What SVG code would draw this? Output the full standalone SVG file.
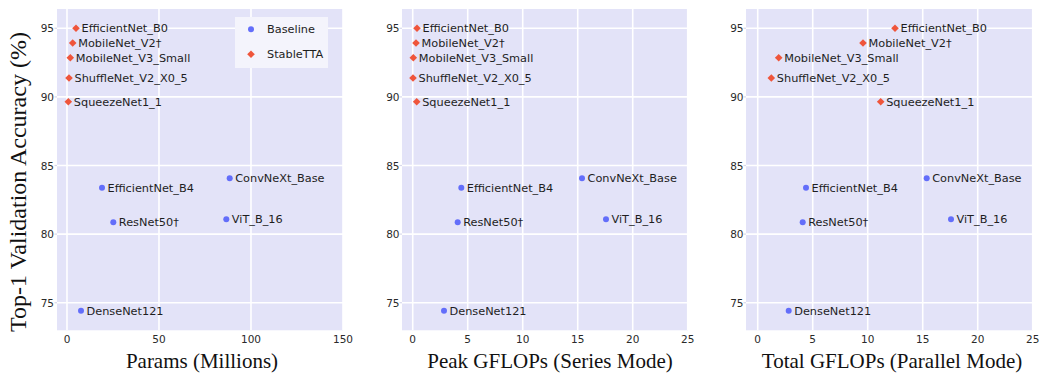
<svg xmlns="http://www.w3.org/2000/svg" width="1042" height="373" viewBox="0 0 1042 373">
<style>
.bg{fill:#E3E3F8}
.grid{stroke:#FFFFFF;stroke-width:1.6;fill:none}
.tick{stroke:#D8D8EC;stroke-width:1.2}
.tl{font-family:"DejaVu Sans",Verdana,sans-serif;font-size:10.5px;fill:#2a2a2a}
.yl{text-anchor:end}
.xl{text-anchor:middle}
.lab{font-family:"DejaVu Sans",Verdana,sans-serif;font-size:11.3px;fill:#1e1e1e}
.ttl{font-family:"Liberation Serif","Times New Roman",serif;font-size:21px;fill:#111;text-anchor:middle}
.base{fill:#636EFA}
.stab{fill:#EF553B}
</style>
<defs>
<circle id="dot" r="3" class="base"/>
<path id="dia" d="M0,-3.8L3.8,0L0,3.8L-3.8,0Z" class="stab"/>
</defs>

<!-- Panel 1 -->
<g id="panel1">
<rect class="bg" x="57" y="9" width="286" height="321.3"/>
<g class="grid">
<line x1="57" y1="28.3" x2="343" y2="28.3"/><line x1="57" y1="96.9" x2="343" y2="96.9"/><line x1="57" y1="165.5" x2="343" y2="165.5"/><line x1="57" y1="234.1" x2="343" y2="234.1"/><line x1="57" y1="302.7" x2="343" y2="302.7"/>
<line x1="67" y1="9" x2="67" y2="330.3"/><line x1="159" y1="9" x2="159" y2="330.3"/><line x1="251" y1="9" x2="251" y2="330.3"/><line x1="343" y1="9" x2="343" y2="330.3"/>
</g>
<g class="tick"><line x1="54.5" y1="28.3" x2="57" y2="28.3"/><line x1="54.5" y1="96.9" x2="57" y2="96.9"/><line x1="54.5" y1="165.5" x2="57" y2="165.5"/><line x1="54.5" y1="234.1" x2="57" y2="234.1"/><line x1="54.5" y1="302.7" x2="57" y2="302.7"/></g>
<g class="tl yl"><text x="54" y="32.3">95</text><text x="54" y="100.9">90</text><text x="54" y="169.5">85</text><text x="54" y="238.1">80</text><text x="54" y="306.7">75</text></g>
<g class="tl xl"><text x="67" y="343">0</text><text x="159" y="343">50</text><text x="251" y="343">100</text><text x="343" y="343">150</text></g>
<text class="ttl" x="202" y="368">Params (Millions)</text>
<text class="ttl" style="font-size:24px" transform="translate(25.5,182) rotate(-90)">Top-1 Validation Accuracy (%)</text>
<g id="p1-effb0"><use href="#dia" x="76" y="28.3"/><text class="lab" x="81.5" y="32.3">EfficientNet_B0</text></g>
<g id="p1-mnv2"><use href="#dia" x="72.7" y="43"/><text class="lab" x="78.2" y="47">MobileNet_V2†</text></g>
<g id="p1-mnv3s"><use href="#dia" x="70.3" y="57.7"/><text class="lab" x="75.8" y="61.7">MobileNet_V3_Small</text></g>
<g id="p1-shuf"><use href="#dia" x="69" y="78"/><text class="lab" x="74.5" y="82">ShuffleNet_V2_X0_5</text></g>
<g id="p1-sq"><use href="#dia" x="68.3" y="101.7"/><text class="lab" x="73.8" y="105.7">SqueezeNet1_1</text></g>
<g id="p1-effb4"><use href="#dot" x="102" y="187.7"/><text class="lab" x="107.5" y="191.7">EfficientNet_B4</text></g>
<g id="p1-convnext"><use href="#dot" x="229.7" y="178.3"/><text class="lab" x="235.2" y="182.3">ConvNeXt_Base</text></g>
<g id="p1-resnet"><use href="#dot" x="113.3" y="222.3"/><text class="lab" x="118.8" y="226.3">ResNet50†</text></g>
<g id="p1-vit"><use href="#dot" x="226.3" y="219.3"/><text class="lab" x="231.8" y="223.3">ViT_B_16</text></g>
<g id="p1-dense"><use href="#dot" x="81" y="310.7"/><text class="lab" x="86.5" y="314.7">DenseNet121</text></g>
<g id="legend">
<rect x="235" y="17" width="93" height="51" fill="#F4F4FC"/>
<use href="#dot" x="251" y="29.3"/><text class="lab" x="267" y="33.3">Baseline</text>
<use href="#dia" x="251" y="54.3"/><text class="lab" x="267" y="58.3">StableTTA</text>
</g>
</g>

<!-- Panel 2 -->
<g id="panel2">
<rect class="bg" x="402" y="9" width="286" height="321.3"/>
<g class="grid">
<line x1="402" y1="28.3" x2="688" y2="28.3"/><line x1="402" y1="96.9" x2="688" y2="96.9"/><line x1="402" y1="165.5" x2="688" y2="165.5"/><line x1="402" y1="234.1" x2="688" y2="234.1"/><line x1="402" y1="302.7" x2="688" y2="302.7"/>
<line x1="412.7" y1="9" x2="412.7" y2="330.3"/><line x1="467.7" y1="9" x2="467.7" y2="330.3"/><line x1="522.7" y1="9" x2="522.7" y2="330.3"/><line x1="577.7" y1="9" x2="577.7" y2="330.3"/><line x1="632.7" y1="9" x2="632.7" y2="330.3"/><line x1="687.7" y1="9" x2="687.7" y2="330.3"/>
</g>
<g class="tick"><line x1="399.5" y1="28.3" x2="402" y2="28.3"/><line x1="399.5" y1="96.9" x2="402" y2="96.9"/><line x1="399.5" y1="165.5" x2="402" y2="165.5"/><line x1="399.5" y1="234.1" x2="402" y2="234.1"/><line x1="399.5" y1="302.7" x2="402" y2="302.7"/></g>
<g class="tl yl"><text x="399.5" y="32.3">95</text><text x="399.5" y="100.9">90</text><text x="399.5" y="169.5">85</text><text x="399.5" y="238.1">80</text><text x="399.5" y="306.7">75</text></g>
<g class="tl xl"><text x="412.7" y="343">0</text><text x="467.7" y="343">5</text><text x="522.7" y="343">10</text><text x="577.7" y="343">15</text><text x="632.7" y="343">20</text><text x="687.7" y="343">25</text></g>
<text class="ttl" x="550" y="368">Peak GFLOPs (Series Mode)</text>
<g id="p2-effb0"><use href="#dia" x="417" y="28.3"/><text class="lab" x="422.5" y="32.3">EfficientNet_B0</text></g>
<g id="p2-mnv2"><use href="#dia" x="416" y="43"/><text class="lab" x="421.5" y="47">MobileNet_V2†</text></g>
<g id="p2-mnv3s"><use href="#dia" x="413.3" y="57.7"/><text class="lab" x="418.8" y="61.7">MobileNet_V3_Small</text></g>
<g id="p2-shuf"><use href="#dia" x="413" y="78"/><text class="lab" x="418.5" y="82">ShuffleNet_V2_X0_5</text></g>
<g id="p2-sq"><use href="#dia" x="416.7" y="101.7"/><text class="lab" x="422.2" y="105.7">SqueezeNet1_1</text></g>
<g id="p2-effb4"><use href="#dot" x="461.3" y="187.7"/><text class="lab" x="466.8" y="191.7">EfficientNet_B4</text></g>
<g id="p2-convnext"><use href="#dot" x="582" y="178.3"/><text class="lab" x="587.5" y="182.3">ConvNeXt_Base</text></g>
<g id="p2-resnet"><use href="#dot" x="457.7" y="222.3"/><text class="lab" x="463.2" y="226.3">ResNet50†</text></g>
<g id="p2-vit"><use href="#dot" x="606" y="219.3"/><text class="lab" x="611.5" y="223.3">ViT_B_16</text></g>
<g id="p2-dense"><use href="#dot" x="444" y="310.7"/><text class="lab" x="449.5" y="314.7">DenseNet121</text></g>
</g>

<!-- Panel 3 -->
<g id="panel3">
<rect class="bg" x="746" y="9" width="287" height="321.3"/>
<g class="grid">
<line x1="746" y1="28.3" x2="1033" y2="28.3"/><line x1="746" y1="96.9" x2="1033" y2="96.9"/><line x1="746" y1="165.5" x2="1033" y2="165.5"/><line x1="746" y1="234.1" x2="1033" y2="234.1"/><line x1="746" y1="302.7" x2="1033" y2="302.7"/>
<line x1="757.7" y1="9" x2="757.7" y2="330.3"/><line x1="812.7" y1="9" x2="812.7" y2="330.3"/><line x1="867.7" y1="9" x2="867.7" y2="330.3"/><line x1="922.7" y1="9" x2="922.7" y2="330.3"/><line x1="977.7" y1="9" x2="977.7" y2="330.3"/><line x1="1032.7" y1="9" x2="1032.7" y2="330.3"/>
</g>
<g class="tick"><line x1="743.5" y1="28.3" x2="746" y2="28.3"/><line x1="743.5" y1="96.9" x2="746" y2="96.9"/><line x1="743.5" y1="165.5" x2="746" y2="165.5"/><line x1="743.5" y1="234.1" x2="746" y2="234.1"/><line x1="743.5" y1="302.7" x2="746" y2="302.7"/></g>
<g class="tl yl"><text x="743.5" y="32.3">95</text><text x="743.5" y="100.9">90</text><text x="743.5" y="169.5">85</text><text x="743.5" y="238.1">80</text><text x="743.5" y="306.7">75</text></g>
<g class="tl xl"><text x="757.7" y="343">0</text><text x="812.7" y="343">5</text><text x="867.7" y="343">10</text><text x="922.7" y="343">15</text><text x="977.7" y="343">20</text><text x="1032.7" y="343">25</text></g>
<text class="ttl" x="892" y="368">Total GFLOPs (Parallel Mode)</text>
<g id="p3-effb0"><use href="#dia" x="895" y="28.3"/><text class="lab" x="900.5" y="32.3">EfficientNet_B0</text></g>
<g id="p3-mnv2"><use href="#dia" x="863" y="43"/><text class="lab" x="868.5" y="47">MobileNet_V2†</text></g>
<g id="p3-mnv3s"><use href="#dia" x="778.7" y="57.7"/><text class="lab" x="784.2" y="61.7">MobileNet_V3_Small</text></g>
<g id="p3-shuf"><use href="#dia" x="771.3" y="78"/><text class="lab" x="776.8" y="82">ShuffleNet_V2_X0_5</text></g>
<g id="p3-sq"><use href="#dia" x="880.7" y="101.7"/><text class="lab" x="886.2" y="105.7">SqueezeNet1_1</text></g>
<g id="p3-effb4"><use href="#dot" x="806" y="187.7"/><text class="lab" x="811.5" y="191.7">EfficientNet_B4</text></g>
<g id="p3-convnext"><use href="#dot" x="926.7" y="178.3"/><text class="lab" x="932.2" y="182.3">ConvNeXt_Base</text></g>
<g id="p3-resnet"><use href="#dot" x="802.7" y="222.3"/><text class="lab" x="808.2" y="226.3">ResNet50†</text></g>
<g id="p3-vit"><use href="#dot" x="951" y="219.3"/><text class="lab" x="956.5" y="223.3">ViT_B_16</text></g>
<g id="p3-dense"><use href="#dot" x="788.7" y="310.7"/><text class="lab" x="794.2" y="314.7">DenseNet121</text></g>
</g>
<g id="connectors"/>
</svg>
